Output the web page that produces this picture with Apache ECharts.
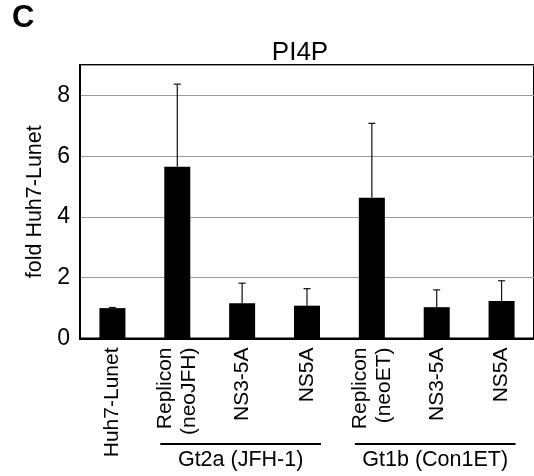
<!DOCTYPE html>
<html>
<head>
<meta charset="utf-8">
<script src="https://cdn.jsdelivr.net/npm/echarts@6/dist/echarts.min.js"></script>
<style>
html, body { margin: 0; padding: 0; background: #fff; }
#chart { width: 534px; height: 476px; }
</style>
</head>
<body>
<div id="chart"></div>
<script>
var categories = ['Huh7-Lunet', 'Replicon\n(neoJFH)', 'NS3-5A', 'NS5A', 'Replicon\n(neoET)', 'NS3-5A', 'NS5A'];
var foldValues = [1.0, 5.65, 1.16, 1.08, 4.63, 1.03, 1.23];
var errorTops = [1.02, 8.37, 1.82, 1.64, 7.08, 1.60, 1.90];
var yTicks = [0, 2, 4, 6, 8];
var groupNames = ['Gt2a (JFH-1)', 'Gt1b (Con1ET)'];
var groupFirst = [1, 4];
var groupLast = [3, 6];

var FONT = '"Liberation Sans", Arial, sans-serif';
var chart = echarts.init(document.getElementById('chart'));

var errData = [];
for (var i = 0; i < categories.length; i++) {
    errData.push([i, foldValues[i], errorTops[i]]);
}

var option = {
    animation: false,
    textStyle: { fontFamily: FONT },
    grid: {
        left: 80, top: 65, width: 457, bottom: 137.5,
        show: true, borderColor: '#000', borderWidth: 2
    },
    xAxis: {
        type: 'category',
        data: categories,
        axisTick: { show: false },
        axisLine: { lineStyle: { color: '#000', width: 2 } },
        axisLabel: {
            rotate: 90, margin: 9, interval: 0,
            fontSize: 21, lineHeight: 24, color: '#000', fontFamily: FONT
        }
    },
    yAxis: {
        type: 'value',
        min: 0, max: 9, interval: 2,
        name: 'fold Huh7-Lunet',
        nameLocation: 'middle',
        nameGap: 29,
        nameTextStyle: { fontSize: 21.5, color: '#000', fontFamily: FONT },
        axisTick: { show: false },
        axisLine: { show: true, lineStyle: { color: '#000', width: 2 } },
        axisLabel: {
            fontSize: 23, color: '#000', margin: 10, fontFamily: FONT,
            showMaxLabel: false,
            formatter: function (v) { return yTicks.indexOf(v) >= 0 ? String(v) : ''; }
        },
        splitLine: { lineStyle: { color: '#9a9a9a', width: 1.2 } }
    },
    series: [{
        type: 'bar',
        data: foldValues,
        barWidth: 26,
        itemStyle: { color: '#000' },
        z: 2
    }, {
        type: 'custom',
        data: errData,
        z: 3,
        renderItem: function (params, api) {
            var base = api.coord([api.value(0), api.value(1)]);
            var top = api.coord([api.value(0), api.value(2)]);
            var half = 3.5;
            var st = { stroke: '#111', lineWidth: 1.2 };
            return {
                type: 'group',
                children: [
                    { type: 'line', shape: { x1: base[0], y1: base[1], x2: top[0], y2: top[1] }, style: st },
                    { type: 'line', shape: { x1: top[0] - half, y1: top[1], x2: top[0] + half, y2: top[1] }, style: st }
                ]
            };
        }
    }]
};
chart.setOption(option);

// group brackets under the category labels
var graphics = [
    { type: 'text', left: 12, top: 3, style: { text: 'C', font: 'bold 31px ' + FONT, fill: '#000' } },
    { type: 'text', x: 300, y: 53, style: { text: 'PI4P', font: '26px ' + FONT, fill: '#000', textAlign: 'center', textVerticalAlign: 'middle' } }
];
for (var g = 0; g < groupNames.length; g++) {
    var x1 = chart.convertToPixel({ xAxisIndex: 0 }, groupFirst[g]) - 17;
    var x2 = chart.convertToPixel({ xAxisIndex: 0 }, groupLast[g]) + 14;
    graphics.push({ type: 'line', shape: { x1: x1, y1: 444, x2: x2, y2: 444 }, style: { stroke: '#000', lineWidth: 2 } });
    graphics.push({ type: 'text', x: (x1 + x2) / 2, y: 460, style: { text: groupNames[g], font: '21.5px ' + FONT, fill: '#000', textAlign: 'center', textVerticalAlign: 'middle' } });
}
chart.setOption({ graphic: graphics });
</script>
</body>
</html>
